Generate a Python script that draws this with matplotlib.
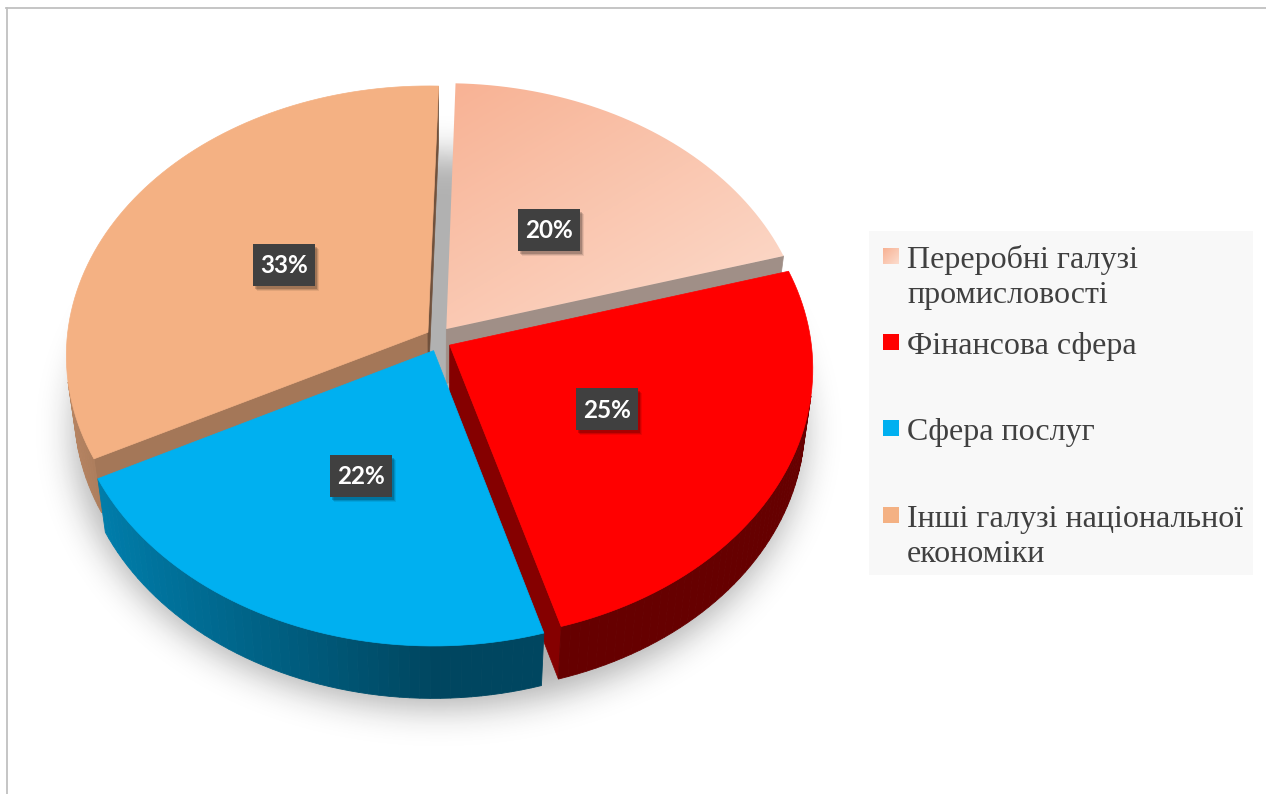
import numpy as np
import matplotlib
matplotlib.use("Agg")
import matplotlib.pyplot as plt
from matplotlib.patches import Polygon, Rectangle
from matplotlib.path import Path
from matplotlib.colors import to_rgb, LinearSegmentedColormap

# data
categories = ["Переробні галузі\nпромисловості", "Фінансова сфера",
              "Сфера послуг", "Інші галузі національної\nекономіки"]
shares = [20, 25, 22, 33]
pct_labels = ["20%", "25%", "22%", "33%"]

# styles
top_colors = ["#FBC9B1", "#FF0000", "#00B0F0", "#F4B183"]
wall_colors = ["#E8CFC4", "#FF0000", "#00B0F0", "#F4B183"]
first_grad = ["#F8B294", "#FCDCCD"]

# figure in pixel coordinates
W, H = 1266, 794
fig = plt.figure(figsize=(W / 100, H / 100), dpi=100)
ax = fig.add_axes([0, 0, 1, 1])

# 3d pie camera
CX, CY = 438.6, 339.0
SCALE = 361.0
PHI = np.radians(48)
DIST = 7.9
THICK = 0.23
EXP_X, EXP_Y = 0.035, 0.047
START = np.radians(1.7)  # first slice angle, clockwise from 12 o'clock


def project(x, y, z):
    x = np.asarray(x, float)
    y = np.asarray(y, float)
    z = np.asarray(z, float)
    v = y * np.sin(PHI) + z * np.cos(PHI)
    w = y * np.cos(PHI) - z * np.sin(PHI)
    k = DIST / (DIST + w)
    return CX + SCALE * x * k, CY - SCALE * v * k


CAM = np.array([0.0, -DIST * np.cos(PHI), DIST * np.sin(PHI)])


def facing(point, normal):
    return np.dot(normal, CAM - point) > 0


def shade(color, f):
    return tuple(np.clip(np.array(to_rgb(color)) * f, 0, 1))


zc = [1.0]


def nextz():
    zc[0] += 0.01
    return zc[0]


# soft shadow below the pie
gx, gy = np.meshgrid(np.arange(0, W, 2) + 1, np.arange(0, H, 2) + 1)
t = np.linspace(0, 2 * np.pi, 200)
sx, sy = project(1.03 * np.sin(t), 1.03 * np.cos(t), -THICK)
shadow_path = Path(np.column_stack([sx, sy + 14]))
mask = shadow_path.contains_points(np.column_stack([gx.ravel(), gy.ravel()]))
mask = mask.reshape(gx.shape).astype(float)
kx = np.arange(-26, 27)
kern = np.exp(-0.5 * (kx / 8.5) ** 2)
kern /= kern.sum()
mask = np.apply_along_axis(lambda r: np.convolve(r, kern, mode="same"), 1, mask)
mask = np.apply_along_axis(lambda c: np.convolve(c, kern, mode="same"), 0, mask)
rgba = np.zeros(mask.shape + (4,))
rgba[..., :3] = 0.1
rgba[..., 3] = 0.34 * mask
ax.imshow(rgba, extent=(0, W, H, 0), origin="upper", zorder=0.5, interpolation="bilinear")

# pie slices
total = float(sum(shares))
ends = START + np.cumsum(shares) / total * 2 * np.pi
starts = ends - np.array(shares) / total * 2 * np.pi
mids = (starts + ends) / 2
order = np.argsort(-np.cos(mids))

label_pos = []
for i in range(len(shares)):
    m = mids[i]
    ox, oy = EXP_X * np.sin(m), EXP_Y * np.cos(m)
    lr = 0.485
    label_pos.append(project(ox + lr * np.sin(m), oy + lr * np.cos(m), 0))

for i in order:
    a0, a1, m = starts[i], ends[i], mids[i]
    ox, oy = EXP_X * np.sin(m), EXP_Y * np.cos(m)
    n = max(10, int(np.degrees(a1 - a0) / 1.5))
    th = np.linspace(a0, a1, n + 1)

    # radial faces
    for a, sgn in ((a0, -1), (a1, 1)):
        nrm = np.array([sgn * np.cos(a), -sgn * np.sin(a), 0.0])
        p = np.array([ox + 0.5 * np.sin(a), oy + 0.5 * np.cos(a), -THICK / 2])
        if not facing(p, nrm):
            continue
        xs = [ox, ox + np.sin(a), ox + np.sin(a), ox]
        ys = [oy, oy + np.cos(a), oy + np.cos(a), oy]
        zs = [0, 0, -THICK, -THICK]
        X, Y = project(xs, ys, zs)
        f = 0.45 + 0.25 * max(0.0, -nrm[1])
        c = shade(wall_colors[i], f)
        ax.add_patch(Polygon(np.column_stack([X, Y]), closed=True, fc=c, ec=c,
                             lw=0.5, zorder=nextz()))

    # outer wall
    for j in range(n):
        b0, b1 = th[j], th[j + 1]
        bm = (b0 + b1) / 2
        nrm = np.array([np.sin(bm), np.cos(bm), 0.0])
        p = np.array([ox + np.sin(bm), oy + np.cos(bm), -THICK / 2])
        if not facing(p, nrm):
            continue
        xs = [ox + np.sin(b0), ox + np.sin(b1), ox + np.sin(b1), ox + np.sin(b0)]
        ys = [oy + np.cos(b0), oy + np.cos(b1), oy + np.cos(b1), oy + np.cos(b0)]
        zs = [0, 0, -THICK, -THICK]
        X, Y = project(xs, ys, zs)
        f = 0.4 + 0.35 * max(0.0, -nrm[0])
        c = shade(wall_colors[i], f)
        ax.add_patch(Polygon(np.column_stack([X, Y]), closed=True, fc=c, ec=c,
                             lw=0.6, zorder=nextz()))

    # top face
    xs = np.concatenate([[ox], ox + np.sin(th)])
    ys = np.concatenate([[oy], oy + np.cos(th)])
    X, Y = project(xs, ys, np.zeros_like(xs))
    pts = np.column_stack([X, Y])
    if i == 0:
        poly = Polygon(pts, closed=True, fc="none", ec="none", zorder=nextz())
        ax.add_patch(poly)
        x0, x1, y0, y1 = X.min(), X.max(), Y.min(), Y.max()
        u, v = np.meshgrid(np.linspace(0, 1, 200), np.linspace(0, 1, 200))
        grad = 0.45 * u + 0.55 * v
        cmap = LinearSegmentedColormap.from_list("g", first_grad)
        im = ax.imshow(grad, extent=(x0, x1, y1, y0), origin="upper", cmap=cmap,
                       vmin=0, vmax=1, zorder=nextz(), interpolation="bilinear")
        im.set_clip_path(poly)
    else:
        c = top_colors[i]
        ax.add_patch(Polygon(pts, closed=True, fc=c, ec=c, lw=0.5, zorder=nextz()))

# percentage labels
BW, BH = 62, 42
for (lx, ly), txt in zip(label_pos, pct_labels):
    lx, ly = float(lx), float(ly)
    for d, al in ((5, 0.08), (4, 0.12), (3, 0.18)):
        ax.add_patch(Rectangle((lx - BW / 2 + d - 1, ly - BH / 2 + d), BW, BH,
                               fc="black", ec="none", alpha=al, zorder=50))
    ax.add_patch(Rectangle((lx - BW / 2, ly - BH / 2), BW, BH, fc="#404040",
                           ec="none", zorder=51))
    ax.text(lx, ly + 1, txt, ha="center", va="center", color="white",
            family="Lato", fontweight="bold", fontsize=17.5, zorder=52)

# legend
ax.add_patch(Rectangle((869, 231), 384, 344, fc="#F8F8F8", ec="none", zorder=40))
step = 86.2
for i, lab in enumerate(categories):
    top = 248 + i * step
    if i == 0:
        mk = Rectangle((883, top), 16, 16, fc="none", ec="none", zorder=41)
        ax.add_patch(mk)
        u, v = np.meshgrid(np.linspace(0, 1, 20), np.linspace(0, 1, 20))
        cmap = LinearSegmentedColormap.from_list("g2", first_grad)
        im = ax.imshow(0.5 * u + 0.5 * v, extent=(883, 899, top + 16, top),
                       origin="upper", cmap=cmap, vmin=0, vmax=1, zorder=42)
        im.set_clip_path(mk)
    else:
        ax.add_patch(Rectangle((883, top), 16, 16, fc=top_colors[i], ec="none", zorder=41))
    for j, line in enumerate(lab.split("\n")):
        ax.text(907, top + 20 + j * 35.5, line, ha="left", va="baseline",
                family="Liberation Serif", fontsize=23, color="#404040", zorder=43)

# frame lines
ax.plot([6, W], [8, 8], color="#C0C0C0", lw=1.3, zorder=60)
ax.plot([6.5, 6.5], [8, H], color="#C0C0C0", lw=1.3, zorder=60)

ax.set_xlim(0, W)
ax.set_ylim(H, 0)
ax.set_aspect("auto")
ax.axis("off")

fig.savefig("out.png", dpi=100)
